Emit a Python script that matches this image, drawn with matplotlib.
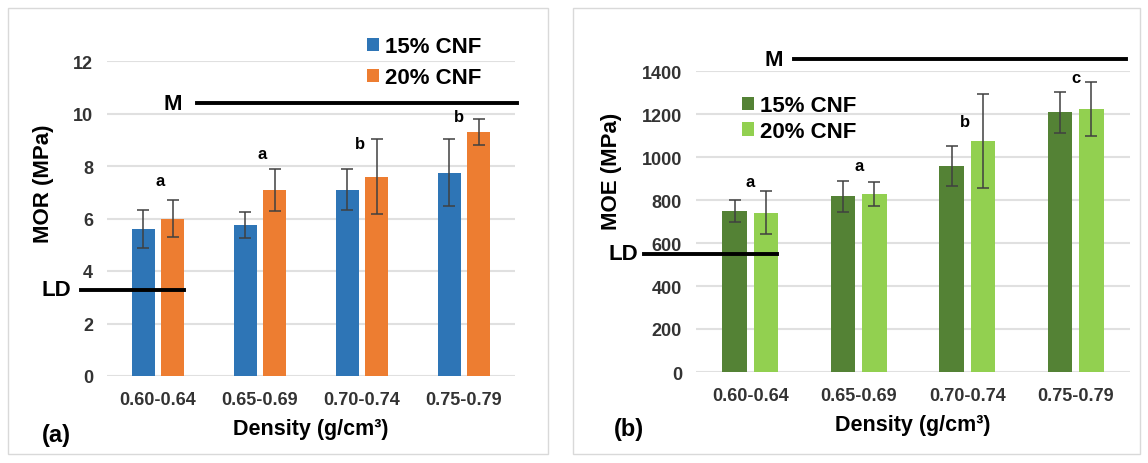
import matplotlib.pyplot as plt
from matplotlib.patches import Rectangle
import numpy as np

plt.rcParams['font.family'] = ['Liberation Sans', 'DejaVu Sans']
plt.rcParams['font.weight'] = 'bold'

dens = ['0.60-0.64', '0.65-0.69', '0.70-0.74', '0.75-0.79']

# MOR (MPa)
mor15 = [5.6, 5.75, 7.1, 7.75]
mor15_err = [0.73, 0.5, 0.77, 1.27]
mor20 = [6.0, 7.1, 7.6, 9.3]
mor20_err = [0.71, 0.8, 1.43, 0.5]
mor_let = ['a', 'a', 'b', 'b']
mor_let_y = [7.43, 8.46, 8.84, 9.9]
mor_M = 10.4
mor_LD = 3.28

# MOE (MPa)
moe15 = [750, 817, 959, 1207]
moe15_err = [52, 72, 93, 94]
moe20 = [740, 828, 1075, 1225]
moe20_err = [100, 57, 218, 125]
moe_let = ['a', 'a', 'b', 'c']
moe_let_y = [888, 960, 1163, 1372]
moe_M = 1454
moe_LD = 550

W, H = 1148, 464
fig = plt.figure(figsize=(W / 100, H / 100), dpi=100)


def px(x0, y0, x1, y1):
    # rectangle en pixels (haut-gauche) -> fraction de figure
    return [x0 / W, 1 - y1 / H, (x1 - x0) / W, (y1 - y0) / H]


# cadres des panneaux
for x0, x1 in [(8, 548), (573, 1140)]:
    fig.patches.append(Rectangle((x0 / W, 9 / H), (x1 - x0) / W, 446 / H, transform=fig.transFigure,
                                 fill=False, edgecolor='#d9d9d9', lw=1))

ax1 = fig.add_axes(px(107, 62, 515, 377))
ax2 = fig.add_axes(px(696, 72, 1130, 373))

x = np.arange(len(dens))
w = 0.225
d = 0.145


def panneau(ax, y1, e1, y2, e2, c1, c2, ymax, ystep):
    ax.bar(x - d, y1, w, color=c1, label='15% CNF', zorder=2)
    ax.bar(x + d, y2, w, color=c2, label='20% CNF', zorder=2)
    ax.errorbar(x - d, y1, yerr=e1, fmt='none', ecolor='#404040', elinewidth=1.1, capsize=4,
                capthick=1.1, zorder=3)
    ax.errorbar(x + d, y2, yerr=e2, fmt='none', ecolor='#404040', elinewidth=1.1, capsize=4,
                capthick=1.1, zorder=3)
    ax.set_xlim(-0.5, 3.5)
    ax.set_ylim(0, ymax)
    ax.set_yticks(np.arange(0, ymax + 1, ystep))
    ax.set_xticks(x)
    ax.set_xticklabels(dens)
    ax.yaxis.grid(True, color='#e0e0e0', lw=1.5, zorder=0)
    for s in ax.spines.values():
        s.set_visible(False)
    ax.tick_params(axis='y', length=0, labelsize=13, labelcolor='#333333', pad=10)
    ax.tick_params(axis='x', length=0, labelsize=13, labelcolor='#333333', pad=11)
    ax.set_xlabel('Density (g/cm³)', fontsize=15.5, fontweight='bold', labelpad=7)


panneau(ax1, mor15, mor15_err, mor20, mor20_err, '#2e75b6', '#ed7d31', 12, 2)
panneau(ax2, moe15, moe15_err, moe20, moe20_err, '#548235', '#92d050', 1400, 200)

fig.text(44 / W, 1 - 184 / H, 'MOR (MPa)', rotation=90, ha='center', va='center', fontsize=16)
fig.text(611 / W, 1 - 171 / H, 'MOE (MPa)', rotation=90, ha='center', va='center', fontsize=16)

dx1 = [0.02, 0.02, -0.02, -0.05]
dx2 = [0.0, 0.0, -0.02, 0.0]
for i in range(4):
    ax1.text(x[i] + dx1[i], mor_let_y[i], mor_let[i], ha='center', va='center', fontsize=12)
    ax2.text(x[i] + dx2[i], moe_let_y[i], moe_let[i], ha='center', va='center', fontsize=12)

# lignes M et LD
ax1.plot([0.38, 3.52], [mor_M, mor_M], color='black', lw=2.8, clip_on=False)
ax1.text(0.235, mor_M, 'M', ha='right', va='center', fontsize=16)
ax1.plot([-0.755, 0.25], [mor_LD, mor_LD], color='black', lw=2.8, clip_on=False)
ax1.text(-0.85, mor_LD, 'LD', ha='right', va='center', fontsize=16)

ax2.plot([0.40, 3.46], [moe_M, moe_M], color='black', lw=2.8, clip_on=False)
ax2.text(0.30, moe_M, 'M', ha='right', va='center', fontsize=16)
ax2.plot([-0.98, 0.25], [moe_LD, moe_LD], color='black', lw=2.8, clip_on=False)
ax2.text(-1.03, moe_LD, 'LD', ha='right', va='center', fontsize=16)

ax1.legend(loc='upper left', bbox_to_anchor=(356 / W, 1 - 26 / H), bbox_transform=fig.transFigure,
           frameon=False, fontsize=16, handlelength=0.55, handleheight=0.55, handletextpad=0.25,
           labelspacing=0.45, borderpad=0)
ax2.legend(loc='upper left', bbox_to_anchor=(731 / W, 1 - 85 / H), bbox_transform=fig.transFigure,
           frameon=False, fontsize=16, handlelength=0.55, handleheight=0.55, handletextpad=0.25,
           labelspacing=0.22, borderpad=0)

fig.text(42 / W, 1 - 436 / H, '(a)', fontsize=17, va='center')
fig.text(614 / W, 1 - 430 / H, '(b)', fontsize=17, va='center')

fig.savefig('out.png', dpi=100)
